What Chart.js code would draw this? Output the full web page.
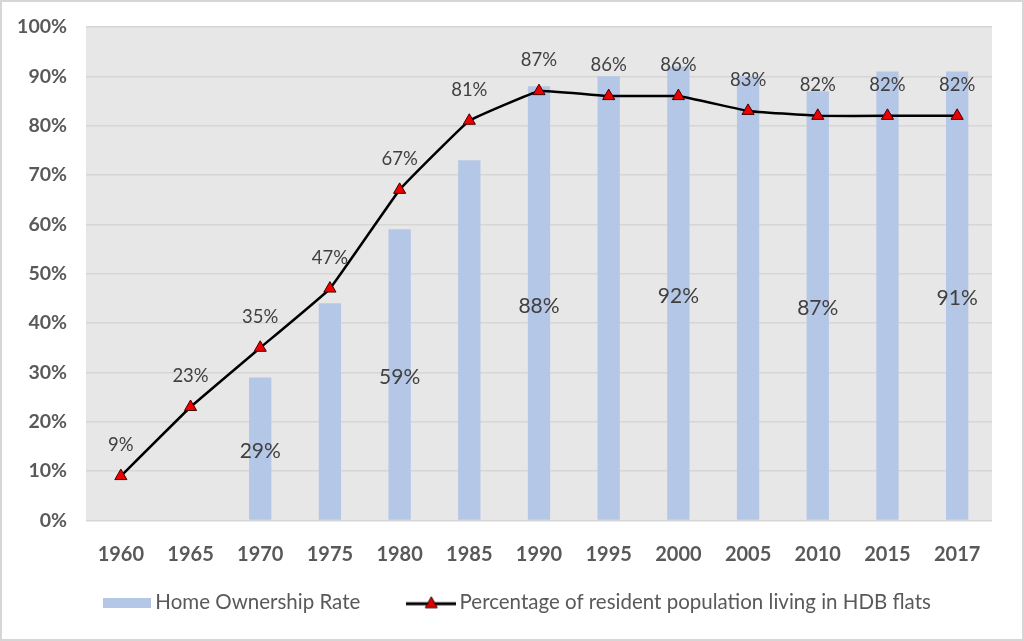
<!DOCTYPE html>
<html>
<head>
<meta charset="utf-8">
<script src="https://cdn.jsdelivr.net/npm/chart.js@4/dist/chart.umd.min.js"></script>
<style>
html,body{margin:0;padding:0;background:#fff;}
#wrap{width:1024px;height:641px;box-sizing:border-box;border:2px solid #d6d6d6;background:#fff;position:relative;}
canvas{display:block;}
</style>
</head>
<body>
<div id="wrap"><canvas id="c" width="1020" height="637"></canvas></div>
<script>
const years = ['1960','1965','1970','1975','1980','1985','1990','1995','2000','2005','2010','2015','2017'];
const homeOwnership = [null,null,29,44,59,73,88,90,92,90,87,91,91];
const hdbPopulation = [9,23,35,47,67,81,87,86,86,83,82,82,82];
const labeledBarYears = ['1970','1980','1990','2000','2010','2017'];
const yTicks = [0,10,20,30,40,50,60,70,80,90,100];
const seriesNames = ['Home Ownership Rate','Percentage of resident population living in HDB flats'];

const FONT = 'Lato, "Open Sans", "DejaVu Sans", sans-serif';

function makeBarIcon(){
  const c=document.createElement('canvas');c.width=48;c.height=10;
  const x=c.getContext('2d');x.fillStyle='#b4c7e7';x.fillRect(0,0,48,10);return c;
}
function makeLineIcon(){
  const c=document.createElement('canvas');c.width=50;c.height=16;
  const x=c.getContext('2d');
  x.strokeStyle='#000';x.lineWidth=3;x.beginPath();x.moveTo(0,9);x.lineTo(50,9);x.stroke();
  x.fillStyle='#e00000';x.strokeStyle='#300';x.lineWidth=1;
  x.beginPath();x.moveTo(25,2);x.lineTo(31,13);x.lineTo(19,13);x.closePath();x.fill();x.stroke();
  return c;
}

const bgPlugin={
  id:'bg',
  beforeDraw(chart){
    const {ctx,chartArea:a}=chart;
    ctx.save();ctx.fillStyle='#e7e7e7';ctx.fillRect(a.left,a.top,a.right-a.left,a.bottom-a.top);ctx.restore();
  }
};
const legendShift={
  id:'legendShift',
  afterLayout(chart){
    const l=chart.legend; if(!l)return;
    l.left+=16; l.right+=16;
  }
};
const labelPlugin={
  id:'vals',
  afterDatasetsDraw(chart){
    const ctx=chart.ctx;
    ctx.save();
    ctx.textAlign='center';ctx.textBaseline='middle';ctx.fillStyle='#404040';
    const barMeta=chart.getDatasetMeta(0);
    ctx.font='21px '+FONT;
    barMeta.data.forEach((el,i)=>{
      const v=homeOwnership[i];
      if(v==null||!labeledBarYears.includes(years[i]))return;
      const p=el.getProps(['x','y','base'],true);
      ctx.fillText(v+'%',p.x,(p.y+p.base)/2+3);
    });
    const lineMeta=chart.getDatasetMeta(1);
    ctx.font='18.5px '+FONT;
    lineMeta.data.forEach((el,i)=>{
      const p=el.getProps(['x','y'],true);
      ctx.fillText(hdbPopulation[i]+'%',p.x,p.y-31);
    });
    ctx.restore();
  }
};

new Chart(document.getElementById('c'),{
  data:{
    labels:years,
    datasets:[
      {type:'bar',label:seriesNames[0],data:homeOwnership,backgroundColor:'#b4c7e7',
       barPercentage:0.32,categoryPercentage:1,order:2},
      {type:'line',label:seriesNames[1],data:hdbPopulation,
       borderColor:'#000',borderWidth:2.5,tension:0.08,pointStyle:'triangle',pointRadius:7,
       pointBackgroundColor:'#ee0000',pointBorderColor:'#400000',pointBorderWidth:1,order:1}
    ]
  },
  options:{
    responsive:false,animation:false,
    layout:{padding:{top:25,right:30,left:14,bottom:16}},
    scales:{
      x:{grid:{display:false},border:{display:false},
         ticks:{color:'#595959',font:{family:FONT,size:20,weight:'bold'},padding:14}},
      y:{min:0,max:100,afterBuildTicks(ax){ax.ticks=yTicks.map(v=>({value:v}));},
         afterFit(ax){ax.width=70;ax.paddingTop=0;ax.paddingBottom=0;},
         grid:{color:'#d6d6d6',lineWidth:1.5,drawTicks:false},border:{display:false},
         ticks:{color:'#595959',font:{family:FONT,size:19.5,weight:'bold'},padding:19,callback:v=>v+'%'}}
    },
    plugins:{
      legend:{position:'bottom',
        labels:{usePointStyle:true,pointStyleWidth:36,color:'#595959',padding:12,
          font:{family:FONT,size:20.5},
          generateLabels(chart){
            return [
              {text:seriesNames[0]+'\u2003\u2003\u2002',pointStyle:makeBarIcon(),datasetIndex:0,fontColor:'#595959',hidden:false,lineWidth:0},
              {text:seriesNames[1],pointStyle:makeLineIcon(),datasetIndex:1,fontColor:'#595959',hidden:false,lineWidth:0}
            ];
          }}},
      tooltip:{enabled:false}
    }
  },
  plugins:[bgPlugin,legendShift,labelPlugin]
});
</script>
</body>
</html>
